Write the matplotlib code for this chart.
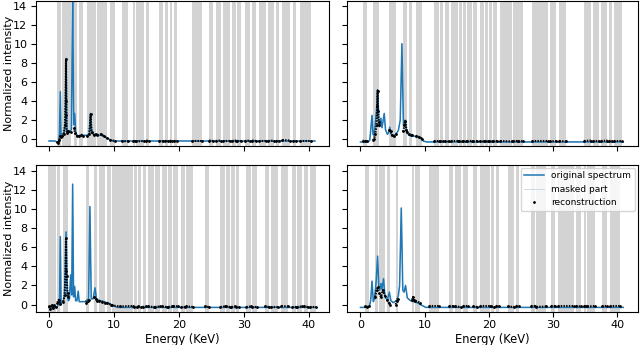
import matplotlib
matplotlib.use('Agg')
import matplotlib.pyplot as plt
from matplotlib.lines import Line2D
import numpy as np

plt.rcParams['font.size'] = 8

# ---- top left ----
tl_x = [0, 0.9, 1.2, 1.45, 1.6, 1.74, 1.85, 2.0, 2.3, 2.5, 2.62, 2.75, 2.9, 3.2, 3.45, 3.64, 3.8, 3.95,
        4.1, 4.3, 4.8, 5.3, 5.8, 6.2, 6.4, 6.6, 7.0, 7.5, 8.0, 8.5, 9.0, 9.5, 10.0, 10.5, 40.96]
tl_y = [-0.2, -0.2, -0.3, -0.4, 0.5, 5.0, 0.3, 0.5, 0.6, 1.5, 8.5, 1.0, 0.6, 0.8, 1.0, 15.5, 1.5, 2.7,
        0.8, 0.4, 0.3, 0.4, 0.4, 0.5, 2.7, 0.6, 0.5, 0.4, 0.4, 0.3, 0.1, -0.1, -0.2, -0.2, -0.2]
tl_bands = [(1.28, 1.85), (2.05, 2.7), (2.8, 3.33), (3.85, 4.36), (4.56, 5.28), (5.85, 7.3), (7.45, 8.97),
            (9.38, 10.15), (11.18, 12.2), (12.87, 13.23), (13.38, 14.67), (15.0, 15.4), (16.97, 17.6),
            (17.9, 18.26), (18.6, 19.0), (19.23, 19.64), (22.1, 23.5), (24.67, 25.28), (25.7, 26.46),
            (26.8, 27.85), (28.2, 28.87), (29.03, 29.64), (30.15, 30.92), (31.28, 31.95), (32.36, 33.49),
            (33.8, 34.6), (34.9, 35.5), (35.95, 37.08), (37.6, 38.1), (38.7, 40.4)]
tl_recon = [[(1.3, -0.3), (1.45, -0.45), (1.6, -0.1), (1.75, 0.3), (1.85, 0.2)],
            [(2.05, 0.3), (2.25, 0.5), (2.45, 1.5), (2.55, 4.0), (2.62, 8.4), (2.68, 2.5), (2.7, 0.8)],
            [(2.8, 0.6), (3.0, 0.8), (3.33, 0.7)],
            [(3.85, 1.2), (4.0, 0.6), (4.36, 0.3)],
            [(4.56, 0.3), (5.0, 0.45), (5.28, 0.3)],
            [(5.85, 0.3), (6.2, 0.5), (6.4, 2.6), (6.55, 0.7), (7.0, 0.4), (7.3, 0.5)],
            [(7.45, 0.4), (8.0, 0.5), (8.5, 0.3), (8.97, 0.1)],
            [(9.38, -0.1), (10.15, -0.2)],
            [(11.18, -0.2), (12.2, -0.25)], [(12.87, -0.2), (13.23, -0.2)], [(13.38, -0.25), (14.67, -0.2)],
            [(15.0, -0.15), (15.4, -0.2)], [(16.97, -0.2), (17.6, -0.25)], [(17.9, -0.2), (18.26, -0.2)],
            [(18.6, -0.2), (19.0, -0.15)], [(19.23, -0.2), (19.64, -0.2)], [(22.1, -0.2), (23.5, -0.2)],
            [(24.67, -0.15), (25.28, -0.2)], [(25.7, -0.2), (26.46, -0.15)], [(26.8, -0.15), (27.85, -0.15)],
            [(28.2, -0.2), (28.87, -0.15)], [(29.03, -0.2), (29.64, -0.2)], [(30.15, -0.2), (30.92, -0.15)],
            [(31.28, -0.15), (31.95, -0.2)], [(32.36, -0.15), (33.49, -0.15)], [(33.8, -0.2), (34.6, -0.15)],
            [(34.9, -0.2), (35.5, -0.2)], [(35.95, -0.1), (37.08, -0.15)], [(37.6, -0.2), (38.1, -0.2)],
            [(38.7, -0.15), (40.4, -0.15)]]

# ---- top right ----
tr_x = [0, 0.8, 1.2, 1.45, 1.6, 1.8, 1.95, 2.1, 2.3, 2.5, 2.67, 2.85, 3.0, 3.18, 3.35, 3.5, 3.7, 3.9,
        4.2, 4.4, 4.56, 4.75, 5.0, 5.5, 5.9, 6.2, 6.46, 6.7, 6.85, 6.97, 7.2, 7.6, 8.5, 9.3, 9.8, 10.3, 40.96]
tr_y = [-0.3, -0.3, -0.3, -0.1, 1.0, 2.5, 0.5, 0.4, 1.5, 3.0, 5.2, 2.0, 1.3, 2.2, 1.2, 1.8, 2.7, 1.0,
        0.5, 0.7, 1.25, 0.6, 0.3, 0.5, 0.9, 2.0, 10.05, 1.4, 1.5, 2.0, 0.7, 0.4, 0.3, 0.1, -0.2, -0.3, -0.3]
tr_bands = [(0.36, 1.03), (1.95, 2.92), (4.51, 5.54), (6.67, 7.28), (7.54, 8.1), (8.62, 9.64),
            (11.54, 12.2), (12.41, 12.92), (13.13, 13.85), (14.15, 15.13), (15.38, 15.8), (16.0, 16.41),
            (16.67, 17.44), (17.59, 18.2), (18.56, 19.33), (19.49, 19.9), (20.1, 20.5), (20.67, 21.28),
            (21.8, 23.6), (23.85, 24.5), (24.6, 25.4), (26.8, 29.2), (29.5, 30.5), (31.0, 32.05),
            (34.87, 35.9), (36.3, 37.2), (37.5, 38.5), (38.7, 39.2), (39.6, 40.8)]
tr_recon = [[(0.36, -0.2), (0.7, -0.15), (1.03, -0.25)],
            [(1.95, -0.1), (2.1, 0.0), (2.3, 0.5), (2.5, 1.5), (2.6, 3.5), (2.67, 5.1), (2.75, 3.0),
             (2.85, 1.8), (2.92, 1.5)],
            [(4.51, 1.0), (4.7, 0.8), (4.9, 0.4), (5.2, 0.3), (5.54, 0.5)],
            [(6.67, 0.8), (6.85, 1.5), (7.0, 1.9), (7.15, 1.0), (7.28, 0.7)],
            [(7.54, 0.5), (7.8, 0.4), (8.1, 0.45)],
            [(8.62, 0.35), (9.1, 0.25), (9.64, 0.05)],
            [(11.54, -0.2), (12.2, -0.2)], [(12.41, -0.25), (12.92, -0.2)], [(13.13, -0.2), (13.85, -0.25)],
            [(14.15, -0.2), (15.13, -0.2)], [(15.38, -0.25), (15.8, -0.2)], [(16.0, -0.2), (16.41, -0.25)],
            [(16.67, -0.2), (17.44, -0.2)], [(17.59, -0.25), (18.2, -0.2)], [(18.56, -0.2), (19.33, -0.25)],
            [(19.49, -0.2), (19.9, -0.2)], [(20.1, -0.25), (20.5, -0.2)], [(20.67, -0.2), (21.28, -0.2)],
            [(21.8, -0.2), (23.6, -0.25)], [(23.85, -0.2), (24.5, -0.2)], [(24.6, -0.25), (25.4, -0.2)],
            [(26.8, -0.2), (29.2, -0.2)], [(29.5, -0.25), (30.5, -0.2)], [(31.0, -0.2), (32.05, -0.25)],
            [(34.87, -0.2), (35.9, -0.15)], [(36.3, -0.2), (37.2, -0.2)], [(37.5, -0.2), (38.5, -0.15)],
            [(38.7, -0.2), (39.2, -0.2)], [(39.6, -0.2), (40.8, -0.2)]]

# ---- bottom left ----
bl_x = [0, 0.5, 1.0, 1.3, 1.5, 1.62, 1.74, 1.86, 2.0, 2.2, 2.4, 2.62, 2.8, 3.0, 3.15, 3.33, 3.5, 3.64,
        3.78, 3.95, 4.1, 4.3, 4.5, 4.65, 5.0, 5.5, 5.9, 6.1, 6.3, 6.5, 6.8, 7.08, 7.3, 7.8, 8.5, 9.3,
        9.9, 10.5, 40.96]
bl_y = [-0.3, -0.3, -0.3, -0.2, 0.3, 0.0, 7.1, 0.0, 0.3, 0.4, 1.0, 7.6, 1.0, 0.4, 0.6, 3.1, 1.0, 12.6,
        0.8, 1.9, 0.4, 0.4, 1.4, 0.3, 0.3, 0.3, 0.5, 0.6, 10.25, 0.6, 0.6, 1.75, 0.6, 0.4, 0.3, 0.1,
        -0.1, -0.3, -0.3]
bl_bands = [(-0.1, 1.08), (1.28, 1.7), (2.2, 2.97), (5.7, 6.2), (6.97, 7.44), (7.7, 8.6), (8.87, 9.5),
            (9.64, 12.87), (13.13, 13.5), (13.74, 14.15), (14.4, 14.87), (15.28, 16.15), (16.3, 17.1),
            (17.44, 18.1), (18.36, 18.87), (19.13, 19.9), (20.4, 20.9), (21.08, 22.2), (23.95, 24.67),
            (26.4, 27.08), (27.23, 27.85), (28.1, 28.6), (28.77, 29.28), (30.4, 31.18), (31.33, 32.05),
            (33.23, 33.9), (34.26, 35.28), (35.8, 36.82), (37.44, 38.0), (38.2, 39.0), (39.23, 39.9),
            (40.15, 41.08)]
bl_recon = [[(0.0, -0.2), (0.2, -0.5), (0.4, 0.0), (0.6, -0.4), (0.8, -0.1), (1.08, -0.3)],
            [(1.28, 0.2), (1.5, 0.5), (1.7, 0.1)],
            [(2.2, 0.3), (2.4, 1.0), (2.55, 3.5), (2.62, 7.0), (2.7, 3.0), (2.85, 1.2), (2.97, 0.8)],
            [(5.7, 0.2), (6.0, 0.4), (6.2, 0.5)],
            [(6.97, 0.8), (7.2, 0.6), (7.44, 0.4)],
            [(7.7, 0.4), (8.2, 0.3), (8.6, 0.2)],
            [(8.87, 0.2), (9.5, 0.0)],
            [(9.64, -0.1), (11.0, -0.2), (12.87, -0.15)],
            [(13.13, -0.25), (13.5, -0.25)], [(13.74, -0.2), (14.15, -0.25)], [(14.4, -0.25), (14.87, -0.2)],
            [(15.28, -0.2), (16.15, -0.25)], [(16.3, -0.25), (17.1, -0.2)], [(17.44, -0.2), (18.1, -0.25)],
            [(18.36, -0.25), (18.87, -0.2)], [(19.13, -0.15), (19.9, -0.2)], [(20.4, -0.25), (20.9, -0.25)],
            [(21.08, -0.2), (22.2, -0.25)], [(23.95, -0.2), (24.67, -0.25)], [(26.4, -0.25), (27.08, -0.2)],
            [(27.23, -0.2), (27.85, -0.25)], [(28.1, -0.25), (28.6, -0.2)], [(28.77, -0.25), (29.28, -0.25)],
            [(30.4, -0.25), (31.18, -0.2)], [(31.33, -0.25), (32.05, -0.25)], [(33.23, -0.2), (33.9, -0.25)],
            [(34.26, -0.25), (35.28, -0.25)], [(35.8, -0.15), (36.82, -0.2)], [(37.44, -0.25), (38.0, -0.25)],
            [(38.2, -0.25), (39.0, -0.2)], [(39.23, -0.2), (39.9, -0.25)], [(40.15, -0.25), (41.08, -0.25)]]

# ---- bottom right ----
br_x = [0, 1.0, 1.4, 1.6, 1.8, 2.0, 2.2, 2.45, 2.67, 2.85, 3.0, 3.2, 3.35, 3.6, 3.8, 4.0, 4.2, 4.5,
        4.75, 5.1, 5.6, 5.9, 6.1, 6.36, 6.6, 6.8, 7.03, 7.3, 7.8, 8.8, 9.6, 10.2, 40.96]
br_y = [-0.3, -0.3, -0.2, 0.5, 2.45, 0.3, 0.6, 2.5, 5.07, 2.0, 1.5, 2.2, 1.6, 2.7, 1.0, 0.6, 0.5, 1.3,
        0.4, 0.2, 0.4, 0.9, 2.0, 10.1, 1.5, 1.3, 2.0, 0.7, 0.4, 0.2, -0.1, -0.3, -0.3]
br_bands = [(0.67, 1.38), (2.3, 2.67), (2.92, 3.85), (4.2, 4.6), (5.49, 5.8), (8.05, 8.36), (8.56, 9.23),
            (10.67, 12.2), (13.74, 14.46), (14.77, 15.64), (16.05, 16.77), (17.54, 18.2), (18.6, 20.15),
            (20.4, 20.87), (21.13, 21.54), (22.97, 23.95), (24.2, 24.72), (26.56, 27.18), (27.44, 28.97),
            (29.74, 30.36), (30.77, 33.33), (33.6, 34.36), (34.87, 35.13), (35.38, 36.56), (37.7, 38.46),
            (38.97, 40.5)]
br_recon = [[(0.67, -0.2), (1.0, -0.25), (1.38, -0.2)],
            [(2.3, 0.8), (2.5, 1.5), (2.67, 1.8)],
            [(2.92, 1.2), (3.2, 0.8), (3.5, 1.5), (3.85, 0.9)],
            [(4.2, 0.5), (4.4, 0.2), (4.6, 0.0)],
            [(5.49, 0.0), (5.65, 0.4), (5.8, 0.6)],
            [(8.05, 0.5), (8.2, 0.8), (8.36, 0.5)],
            [(8.56, 0.4), (9.23, 0.2)],
            [(10.67, -0.2), (12.2, -0.2)], [(13.74, -0.2), (14.46, -0.2)], [(14.77, -0.2), (15.64, -0.25)],
            [(16.05, -0.2), (16.77, -0.2)], [(17.54, -0.2), (18.2, -0.25)], [(18.6, -0.2), (20.15, -0.2)],
            [(20.4, -0.2), (20.87, -0.25)], [(21.13, -0.2), (21.54, -0.2)], [(22.97, -0.2), (23.95, -0.25)],
            [(24.2, -0.2), (24.72, -0.2)], [(26.56, -0.2), (27.18, -0.2)], [(27.44, -0.25), (28.97, -0.2)],
            [(29.74, -0.2), (30.36, -0.2)], [(30.77, -0.2), (33.33, -0.2)], [(33.6, -0.15), (34.36, -0.2)],
            [(34.87, -0.2), (35.13, -0.2)], [(35.38, -0.2), (36.56, -0.15)], [(37.7, -0.2), (38.46, -0.2)],
            [(38.97, -0.2), (40.5, -0.2)]]

panels = [(tl_x, tl_y, tl_bands, tl_recon), (tr_x, tr_y, tr_bands, tr_recon),
          (bl_x, bl_y, bl_bands, bl_recon), (br_x, br_y, br_bands, br_recon)]

fig = plt.figure(figsize=(6.4, 3.45), dpi=100)
pos = [[0.0558, 0.5762, 0.459, 0.4223], [0.5427, 0.5762, 0.4535, 0.4223],
       [0.0558, 0.0965, 0.459, 0.4252], [0.5427, 0.0965, 0.4535, 0.4252]]
axes = []
for i, (x, y, bands, recon) in enumerate(panels):
    if i == 0:
        ax = fig.add_axes(pos[i])
    else:
        ax = fig.add_axes(pos[i], sharex=axes[0], sharey=axes[0])
    axes.append(ax)
    for a, b in bands:
        ax.axvspan(a, b, color='lightgray', lw=0, zorder=0)
    ax.plot(x, y, color='#a6c8e6', lw=0.5, zorder=1)
    ax.plot(x, y, color='#1f77b4', lw=1.1, zorder=2)
    for seg in recon:
        sx = [p[0] for p in seg]
        sy = [p[1] for p in seg]
        ax.plot(sx, sy, color='k', ls=(0, (0.7, 0.6)), lw=1.5, marker='.', ms=2, zorder=3)
    ax.set_yticks([0, 2, 4, 6, 8, 10, 12, 14])
    ax.set_xticks([0, 10, 20, 30, 40])
    ax.tick_params(labelsize=8, length=3.5, pad=2.5)

axes[0].set_ylim(-0.75, 14.6)
axes[0].set_xlim(-2.05, 43.2)
axes[0].tick_params(labelbottom=False)
axes[1].tick_params(labelbottom=False, labelleft=False)
axes[3].tick_params(labelleft=False)
for ax in (axes[0], axes[2]):
    ax.set_ylabel('Normalized intensity', fontsize=8)
    ax.yaxis.set_label_coords(-0.075, 0.5)
for ax in (axes[2], axes[3]):
    ax.set_xlabel('Energy (KeV)', fontsize=8.3, labelpad=2)

handles = [Line2D([], [], color='#1f77b4', lw=1.1),
           Line2D([], [], color='#c9d6e3', lw=0.6),
           Line2D([], [], color='k', marker='.', ms=2, ls='none')]
axes[3].legend(handles, ['original spectrum', 'masked part', 'reconstruction'],
               loc='upper right', fontsize=6.5, handlelength=2.2, borderaxespad=0.3)

fig.savefig('out.png', dpi=100)
